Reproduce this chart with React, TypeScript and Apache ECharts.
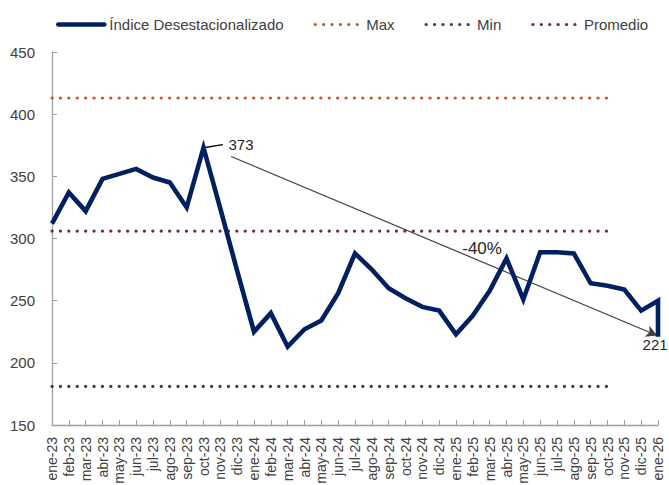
import React, { useEffect, useRef } from 'react';
import * as echarts from 'echarts';

const categories = [
  'ene-23', 'feb-23', 'mar-23', 'abr-23', 'may-23', 'jun-23', 'jul-23', 'ago-23', 'sep-23', 'oct-23', 'nov-23', 'dic-23',
  'ene-24', 'feb-24', 'mar-24', 'abr-24', 'may-24', 'jun-24', 'jul-24', 'ago-24', 'sep-24', 'oct-24', 'nov-24', 'dic-24',
  'ene-25', 'feb-25', 'mar-25', 'abr-25', 'may-25', 'jun-25', 'jul-25', 'ago-25', 'sep-25', 'oct-25', 'nov-25', 'dic-25',
  'ene-26',
];

const indexValues = [
  312, 337, 322, 348, 352, 356, 349, 345, 325, 373, 324, 274,
  225, 240, 213, 227, 234, 256, 288, 275, 260, 252, 245, 242,
  223, 238, 258, 284, 251, 289, 289, 288, 264, 262, 259, 242,
  250,
];
const finalValue = 221;

const maxLevel = 413;
const minLevel = 181;
const avgLevel = 306;
const levelLastIndex = 33;

const yTicks = [150, 200, 250, 300, 350, 400, 450];

const peakIndex = 9;
const peakLabel = '373';
const peakLabelAt = [11.23, 375.5];
const leaderEnd = [10.15, 375.5];
const finalLabelAt = [35.83, 214.5];
const trendStart = [10.64, 366];
const trendEnd = [35.95, 222];
const changeLabel = '-40%';
const changeLabelAt = [25.55, 292.3];

const NAVY = '#002060';
const ORANGE = '#C65A1E';
const GRAY = '#404040';
const MAROON = '#7D1F4F';
const TEXT = '#404040';
const FONT = "'Liberation Sans', Arial, sans-serif";

const dotted = (color: string) => ({
  color,
  width: 3.2,
  type: [0.1, 8.3] as any,
  cap: 'round' as const,
});

const levelData = (level: number) =>
  categories.map((_, i) => [i, i <= levelLastIndex ? level : null]);

const textMark = (coord: number[], text: string, size: number, color: string) => ({
  coord,
  label: { show: true, position: 'inside', formatter: text, fontSize: size, color, fontFamily: FONT },
});

export default function App() {
  const ref = useRef<HTMLDivElement>(null);

  useEffect(() => {
    if (!ref.current) return;
    const chart = echarts.init(ref.current, null, { renderer: 'svg' });
    const last = categories.length - 1;
    const mainData: any[] = indexValues.map((v, i) => [i, v]);
    mainData.push([last, finalValue]);

    chart.setOption({
      animation: false,
      textStyle: { fontFamily: FONT, color: TEXT },
      legend: {
        left: 51,
        top: 12,
        itemWidth: 46,
        itemHeight: 14,
        itemGap: 30,
        itemStyle: { opacity: 0 },
        lineStyle: { width: 'inherit', cap: 'round' },
        textStyle: { fontSize: 15, color: TEXT, fontFamily: FONT },
        data: ['Índice Desestacionalizado', 'Max', 'Min', 'Promedio'],
      },
      grid: { left: 52, right: 11, top: 52, bottom: 60, outerBoundsMode: 'none' },
      xAxis: {
        type: 'value',
        min: 0,
        max: last,
        interval: 1,
        splitLine: { show: false },
        axisLine: { show: true, lineStyle: { color: '#a0a0a0', width: 1.3 } },
        axisTick: { show: true, inside: true, length: 5, lineStyle: { color: '#a0a0a0' } },
        axisLabel: {
          rotate: 90,
          margin: 12,
          fontSize: 14,
          color: TEXT,
          fontFamily: FONT,
          formatter: (v: number) => categories[v] ?? '',
        },
      },
      yAxis: {
        type: 'value',
        min: yTicks[0],
        max: yTicks[yTicks.length - 1],
        interval: yTicks[1] - yTicks[0],
        splitLine: { show: false },
        axisLine: { show: true, lineStyle: { color: '#a0a0a0', width: 1.3 } },
        axisTick: { show: true, inside: true, length: 5, lineStyle: { color: '#a0a0a0' } },
        axisLabel: { margin: 17, fontSize: 15, color: TEXT, fontFamily: FONT },
      },
      series: [
        {
          name: 'Índice Desestacionalizado',
          type: 'line',
          symbol: 'none',
          showSymbol: false,
          data: mainData,
          lineStyle: { color: NAVY, width: 4.6, join: 'miter' },
          itemStyle: { color: NAVY },
          z: 5,
          markLine: {
            silent: true,
            symbol: ['none', 'none'],
            label: { show: false },
            data: [
              [
                { coord: [peakIndex, indexValues[peakIndex]], symbol: 'none', lineStyle: { color: '#000', width: 1.3, type: 'solid' } },
                { coord: leaderEnd, symbol: 'none', lineStyle: { color: '#000', width: 1.3, type: 'solid' } },
              ],
              [
                { coord: trendStart, symbol: 'none', lineStyle: { color: '#404040', width: 1.2, type: 'solid' } },
                { coord: trendEnd, symbol: 'arrow', symbolSize: [9, 11], lineStyle: { color: '#404040', width: 1.2, type: 'solid' } },
              ],
            ],
          },
          markPoint: {
            silent: true,
            symbol: 'circle',
            symbolSize: 0,
            data: [
              textMark(changeLabelAt, changeLabel, 17, '#262626'),
              textMark(peakLabelAt, peakLabel, 15, '#262626'),
              textMark(finalLabelAt, String(finalValue), 15, '#262626'),
            ],
          },
        },
        {
          name: 'Max',
          type: 'line',
          symbol: 'none',
          showSymbol: false,
          data: levelData(maxLevel),
          lineStyle: dotted(ORANGE),
          itemStyle: { color: ORANGE },
        },
        {
          name: 'Min',
          type: 'line',
          symbol: 'none',
          showSymbol: false,
          data: levelData(minLevel),
          lineStyle: dotted(GRAY),
          itemStyle: { color: GRAY },
        },
        {
          name: 'Promedio',
          type: 'line',
          symbol: 'none',
          showSymbol: false,
          data: levelData(avgLevel),
          lineStyle: dotted(MAROON),
          itemStyle: { color: MAROON },
        },
      ],
    });
    return () => chart.dispose();
  }, []);

  return (
    <div
      ref={ref}
      style={{ position: 'absolute', left: 0, top: 0, width: 669, height: 485, background: '#fff' }}
    />
  );
}
